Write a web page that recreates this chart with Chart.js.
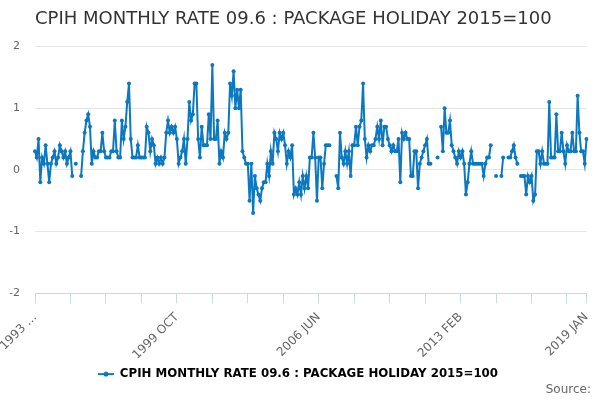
<!DOCTYPE html>
<html>
<head>
<meta charset="utf-8">
<script src="https://cdn.jsdelivr.net/npm/chart.js@4.4.1/dist/chart.umd.min.js"></script>
<style>
  html, body { margin: 0; padding: 0; background: #ffffff; }
  #wrap { width: 600px; height: 400px; }
</style>
</head>
<body>
<div id="wrap"><canvas id="chart" width="600" height="400"></canvas></div>
<script>
// ---------- data ----------
const TITLE = 'CPIH MONTHLY RATE 09.6 : PACKAGE HOLIDAY 2015=100';
const SERIES_NAME = 'CPIH MONTHLY RATE 09.6 : PACKAGE HOLIDAY 2015=100';
const SOURCE_TEXT = 'Source:';
const MONTHS = ['JAN','FEB','MAR','APR','MAY','JUN','JUL','AUG','SEP','OCT','NOV','DEC'];
const Y_TICKS = [-2, -1, 0, 1, 2];
const X_TICK_LABELS = ['1993 FEB', '1999 OCT', '2006 JUN', '2013 FEB', '2019 JAN'];

// monthly rate (%) per year; 1993 starts in FEB, 2019 has JAN only; null = no value
const v1993 = [0.3, 0.2, 0.5, -0.2, 0.2, 0.1, 0.4, 0.1, -0.2, 0.1, 0.2];
const v1994 = [0.3, 0.1, 0.2, 0.4, 0.3, 0.2, 0.3, 0.1, 0.2, 0.3, -0.1, null];
const v1995 = [0.1, null, null, -0.1, 0.3, 0.6, 0.8, 0.9, 0.7, 0.1, 0.3, 0.2];
const v1996 = [0.2, 0.3, 0.3, 0.6, 0.3, 0.2, 0.2, 0.2, 0.3, 0.3, 0.8, 0.3];
const v1997 = [0.2, 0.2, 0.8, 0.5, 0.7, 1.1, 1.4, 0.5, 0.2, 0.2, 0.2, 0.4];
const v1998 = [0.2, 0.2, 0.2, 0.2, 0.7, 0.6, 0.3, 0.5, 0.4, 0.1, 0.2, 0.1];
const v1999 = [0.2, 0.1, 0.2, 0.6, 0.8, 0.6, 0.7, 0.6, 0.7, 0.5, 0.1, 0.2];
const v2000 = [0.3, 0.5, 0.1, 0.5, 1.1, 0.8, 0.9, 1.4, 1.4, 0.5, 0.2, 0.7];
const v2001 = [0.4, 0.4, 0.4, 0.9, 0.5, 1.7, 0.5, 0.5, 0.8, 0.1, 0.3, 0.2];
const v2002 = [0.6, 0.5, 0.6, 1.4, 1.2, 1.6, 1.0, 1.3, 1.0, 1.3, 0.3, 0.2];
const v2003 = [0.1, 0.1, -0.5, 0.1, -0.7, -0.1, -0.3, -0.4, -0.5, -0.3, -0.2, -0.2];
const v2004 = [0.1, -0.1, 0.3, 0.1, 0.6, 0.5, 0.3, 0.6, 0.5, 0.6, 0.4, 0.1];
const v2005 = [0.3, 0.2, 0.4, -0.4, -0.3, -0.4, -0.2, -0.4, -0.1, -0.3, -0.1, -0.3];
const v2006 = [0.2, 0.2, 0.6, 0.2, -0.5, 0.2, 0.2, -0.3, 0.1, 0.4, 0.4, 0.4];
const v2007 = [null, null, null, -0.1, -0.3, 0.6, 0.2, 0.1, 0.3, 0.1, 0.3, -0.1];
const v2008 = [0.4, 0.4, 0.7, 0.4, 0.7, 0.8, 1.4, 0.5, 0.2, 0.4, 0.3, 0.4];
const v2009 = [0.4, 0.5, 0.7, 0.5, 0.8, 0.4, 0.7, 0.7, 0.5, 0.4, 0.3, 0.4];
const v2010 = [0.3, 0.3, 0.5, -0.2, 0.6, 0.5, 0.6, 0.5, 0.5, -0.1, -0.1, 0.3];
const v2011 = [0.3, -0.3, 0.1, 0.2, 0.3, 0.4, 0.5, 0.1, 0.1, null, null, null];
const v2012 = [0.2, null, 0.7, 0.3, 1.0, 0.6, 0.6, 0.8, 0.4, 0.3, 0.2, 0.1];
const v2013 = [0.3, 0.2, 0.3, 0.1, -0.4, -0.2, 0.1, 0.3, 0.1, 0.1, 0.1, 0.1];
const v2014 = [0.1, 0.1, -0.1, 0.1, 0.2, 0.2, 0.4, null, null, -0.1, null, null];
const v2015 = [-0.1, 0.2, null, null, 0.2, 0.2, 0.3, 0.4, 0.2, 0.1, null, -0.1];
const v2016 = [-0.1, -0.1, -0.4, -0.1, -0.2, -0.1, -0.5, -0.4, 0.3, 0.3, 0.1, 0.3];
const v2017 = [0.1, 0.1, 0.1, 1.1, 0.2, 0.2, 0.2, 0.9, 0.3, 0.3, 0.6, 0.3];
const v2018 = [0.1, 0.4, 0.3, 0.3, 0.6, 0.3, 0.3, 1.2, 0.6, 0.3, 0.3, 0.1];
const v2019 = [0.5];

const YEARS = [
  [1993, 1, v1993], [1994, 0, v1994], [1995, 0, v1995], [1996, 0, v1996], [1997, 0, v1997],
  [1998, 0, v1998], [1999, 0, v1999], [2000, 0, v2000], [2001, 0, v2001], [2002, 0, v2002],
  [2003, 0, v2003], [2004, 0, v2004], [2005, 0, v2005], [2006, 0, v2006], [2007, 0, v2007],
  [2008, 0, v2008], [2009, 0, v2009], [2010, 0, v2010], [2011, 0, v2011], [2012, 0, v2012],
  [2013, 0, v2013], [2014, 0, v2014], [2015, 0, v2015], [2016, 0, v2016], [2017, 0, v2017],
  [2018, 0, v2018], [2019, 0, v2019]
];

const categories = [];
const values = [];
YEARS.forEach(([year, startMonth, arr]) => {
  arr.forEach((v, k) => {
    categories.push(year + ' ' + MONTHS[startMonth + k]);
    values.push(v);
  });
});
const N = categories.length;

// ---------- styling ----------
const LINE_COLOR = '#0b78bf';
const FONT = "'DejaVu Sans', 'Liberation Sans', sans-serif";
Chart.defaults.font.family = FONT;

// legend symbol: short line with a marker in the middle
const sym = document.createElement('canvas');
sym.width = 16; sym.height = 8;
(function () {
  const c = sym.getContext('2d');
  c.strokeStyle = LINE_COLOR; c.lineWidth = 2;
  c.beginPath(); c.moveTo(0, 4); c.lineTo(16, 4); c.stroke();
  c.fillStyle = LINE_COLOR;
  c.beginPath(); c.arc(8, 4, 2.5, 0, Math.PI * 2); c.fill();
})();

const extras = {
  id: 'extras',
  afterDraw(chart) {
    const ctx = chart.ctx;
    ctx.save();
    ctx.fillStyle = '#333333';
    ctx.font = '18px ' + FONT;
    ctx.textAlign = 'left';
    ctx.textBaseline = 'alphabetic';
    ctx.fillText(TITLE, 35, 24);
    ctx.fillStyle = '#666666';
    ctx.font = '12px ' + FONT;
    ctx.textAlign = 'right';
    ctx.textBaseline = 'middle';
    ctx.fillText(SOURCE_TEXT, 591, 390);
    ctx.restore();
  }
};

new Chart(document.getElementById('chart'), {
  type: 'line',
  data: {
    labels: categories,
    datasets: [{
      label: SERIES_NAME,
      data: values,
      borderColor: LINE_COLOR,
      backgroundColor: LINE_COLOR,
      borderWidth: 2,
      pointRadius: 2,
      pointHoverRadius: 2,
      pointBorderWidth: 0,
      pointBackgroundColor: LINE_COLOR,
      tension: 0,
      spanGaps: false,
      fill: false
    }]
  },
  options: {
    responsive: false,
    animation: false,
    layout: { padding: { top: 46.5, left: 9.5, right: 13.5, bottom: 10 } },
    plugins: {
      title: { display: false },
      tooltip: { enabled: false },
      legend: {
        display: true,
        position: 'bottom',
        onClick: null,
        labels: {
          color: '#333333',
          font: { size: 11.8, weight: 'bold', family: FONT },
          usePointStyle: true,
          pointStyleWidth: 16,
          padding: 10,
          generateLabels(chart) {
            const ds = chart.data.datasets[0];
            return [{
              text: ds.label, pointStyle: sym, fillStyle: LINE_COLOR,
              strokeStyle: LINE_COLOR, lineWidth: 0, hidden: false, datasetIndex: 0
            }];
          }
        }
      }
    },
    scales: {
      x: {
        type: 'category',
        offset: false,
        afterFit(scale) {
          scale.height = 65;
          scale.paddingLeft = 0;
          scale.paddingRight = 0;
        },
        border: { display: true, color: '#ccd6eb', width: 1 },
        grid: {
          drawOnChartArea: false,
          drawTicks: true,
          tickLength: 10,
          color: (ctx) => (ctx.index % 20 === 0 || ctx.index === N - 1) ? '#ccd6eb' : 'rgba(0,0,0,0)'
        },
        ticks: {
          autoSkip: false,
          minRotation: 45,
          maxRotation: 45,
          padding: 7,
          color: '#666666',
          font: { size: 12 },
          callback: function (value, index) {
            const lab = this.getLabelForValue(value);
            if (!X_TICK_LABELS.includes(lab)) return '';
            if (index === 0) return lab.slice(0, 5) + '\u2026';
            return lab;
          }
        }
      },
      y: {
        min: Y_TICKS[0],
        max: Y_TICKS[Y_TICKS.length - 1],
        afterFit(scale) { scale.width = 25.5; },
        afterBuildTicks(scale) { scale.ticks = Y_TICKS.map(v => ({ value: v })); },
        border: { display: false },
        grid: {
          drawTicks: false,
          color: (ctx) => (ctx.tick && ctx.tick.value === Y_TICKS[0]) ? 'rgba(0,0,0,0)' : '#e6e6e6',
          lineWidth: 1
        },
        ticks: {
          padding: 15,
          color: '#666666',
          font: { size: 11 },
          callback: (v) => String(v)
        }
      }
    }
  },
  plugins: [extras]
});
</script>
</body>
</html>
